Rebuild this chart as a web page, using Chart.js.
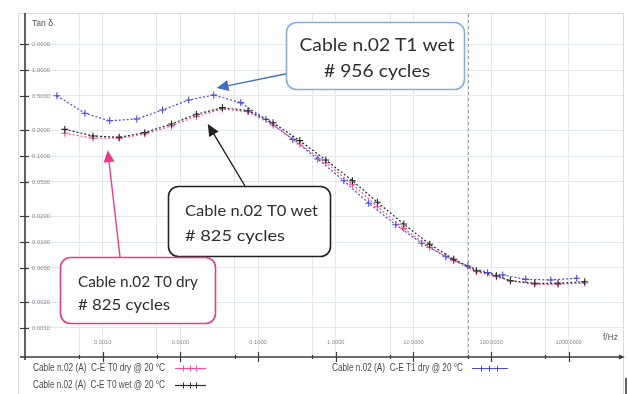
<!DOCTYPE html>
<html><head><meta charset="utf-8">
<script src="https://cdn.jsdelivr.net/npm/chart.js@4.4.1/dist/chart.umd.min.js"></script>
<style>html,body{margin:0;padding:0;background:#fff;}#wrap{width:628px;height:394px;position:relative;}</style>
</head><body><div id="wrap"><canvas id="c" width="628" height="394"></canvas></div>
<script>
// ---- data ----
const freqT0 = [0.000325, 0.00075, 0.00163, 0.00348, 0.0077, 0.0161, 0.0348, 0.0744, 0.156, 0.344, 0.744, 1.64, 3.44, 7.5, 16.2, 33, 64.7, 117, 177, 364, 726, 1600];
const tanT0dry = [0.184, 0.161, 0.161, 0.180, 0.224, 0.290, 0.352, 0.327, 0.229, 0.138, 0.0836, 0.0469, 0.0257, 0.0144, 0.00867, 0.00606, 0.00451, 0.00395, 0.00355, 0.00322, 0.00322, 0.00333];
const tanT0wet = [0.204, 0.171, 0.165, 0.187, 0.236, 0.306, 0.365, 0.336, 0.244, 0.151, 0.0898, 0.0516, 0.0290, 0.0162, 0.0094, 0.00629, 0.00464, 0.00405, 0.00355, 0.00331, 0.00331, 0.00345];
const freqT1 = [0.000257, 0.00059, 0.00123, 0.00275, 0.0059, 0.0128, 0.0269, 0.0598, 0.126, 0.28, 0.587, 1.27, 2.66, 5.92, 12.8, 26.1, 50, 90, 141, 279, 585, 1265];
const tanT1dry = [0.502, 0.314, 0.257, 0.269, 0.343, 0.448, 0.512, 0.417, 0.267, 0.156, 0.0923, 0.0516, 0.0282, 0.0159, 0.00966, 0.00675, 0.00526, 0.00440, 0.00413, 0.00368, 0.00362, 0.00379];

const seriesNames = ['Cable n.02 (A)  C-E T0 dry @ 20 °C', 'Cable n.02 (A)  C-E T0 wet @ 20 °C', 'Cable n.02 (A)  C-E T1 dry @ 20 °C'];
const seriesColors = ['#f0509a', '#2a2a2a', '#4b4bd0'];

const xGridValues = [0.0005, 0.001, 0.005, 0.01, 0.05, 0.1, 0.5, 1, 5, 10, 50, 100, 500, 1000];
const xLabelValues = [0.001, 0.01, 0.1, 1, 10, 100, 1000];
const xLabels = ['0.0010', '0.0100', '0.1000', '1.0000', '10.0000', '100.0000', '1000.0000'];
const yTickValues = [0.001, 0.002, 0.005, 0.01, 0.02, 0.05, 0.1, 0.2, 0.5, 1, 2];
const yLabels = ['0.0010', '0.0020', '0.0050', '0.0100', '0.0200', '0.0500', '0.1000', '0.2000', '0.5000', '1.0000', '2.0000'];
const markerFreq = 50;
const yTitle = 'Tan δ';
const xTitle = 'f/Hz';

const calloutLines = [['Cable n.02 T1 wet', '# 956 cycles'], ['Cable n.02 T0 wet', '# 825 cycles'], ['Cable n.02 T0 dry', '# 825 cycles']];
const calloutTipFreq = [0.0292, 0.0225, 0.00116];
const calloutTipTan = [0.617, 0.236, 0.117];

// ---- helpers ----
function fitText(ctx, text, x, y, w, align) {
  const m = ctx.measureText(text).width;
  ctx.save();
  ctx.translate(x, y);
  ctx.scale(w / m, 1);
  ctx.textAlign = 'left';
  let ox = 0;
  if (align === 'center') ox = -m / 2;
  if (align === 'right') ox = -m;
  ctx.fillText(text, ox, 0);
  ctx.restore();
}
function roundRect(ctx, x, y, w, h, r) {
  ctx.beginPath();
  ctx.moveTo(x + r, y);
  ctx.lineTo(x + w - r, y);
  ctx.arcTo(x + w, y, x + w, y + r, r);
  ctx.lineTo(x + w, y + h - r);
  ctx.arcTo(x + w, y + h, x + w - r, y + h, r);
  ctx.lineTo(x + r, y + h);
  ctx.arcTo(x, y + h, x, y + h - r, r);
  ctx.lineTo(x, y + r);
  ctx.arcTo(x, y, x + r, y, r);
  ctx.closePath();
}
function arrow(ctx, x1, y1, x2, y2, color) {
  const a = Math.atan2(y2 - y1, x2 - x1);
  const L = 12, W = 5.5;
  ctx.save();
  ctx.strokeStyle = color; ctx.fillStyle = color; ctx.lineWidth = 1.4;
  ctx.beginPath();
  ctx.moveTo(x1, y1);
  ctx.lineTo(x2 - Math.cos(a) * L * 0.8, y2 - Math.sin(a) * L * 0.8);
  ctx.stroke();
  ctx.beginPath();
  ctx.moveTo(x2, y2);
  ctx.lineTo(x2 - Math.cos(a) * L + Math.sin(a) * W, y2 - Math.sin(a) * L - Math.cos(a) * W);
  ctx.lineTo(x2 - Math.cos(a) * L - Math.sin(a) * W, y2 - Math.sin(a) * L + Math.cos(a) * W);
  ctx.closePath();
  ctx.fill();
  ctx.restore();
}
function cross(ctx, x, y, r, color) {
  ctx.save();
  ctx.strokeStyle = color; ctx.lineWidth = 1;
  ctx.beginPath();
  ctx.moveTo(x - r, y); ctx.lineTo(x + r, y);
  ctx.moveTo(x, y - r); ctx.lineTo(x, y + r);
  ctx.stroke();
  ctx.restore();
}

const decor = {
  id: 'decor',
  beforeDatasetsDraw(chart) {
    const ctx = chart.ctx;
    const xs = chart.scales.x, ys = chart.scales.y, ca = chart.chartArea;
    ctx.save();
    // frame
    ctx.strokeStyle = '#dadada'; ctx.lineWidth = 1;
    ctx.beginPath();
    ctx.moveTo(18.5, 394); ctx.lineTo(18.5, 13.5); ctx.lineTo(623.5, 13.5); ctx.lineTo(623.5, 394);
    ctx.stroke();
    // 50 Hz dashed line
    const xm = Math.round(xs.getPixelForValue(markerFreq)) + 0.5;
    ctx.strokeStyle = '#9a9a9a'; ctx.setLineDash([3, 3]);
    ctx.beginPath(); ctx.moveTo(xm, ca.top); ctx.lineTo(xm, ca.bottom); ctx.stroke();
    ctx.setLineDash([]);
    // axes
    ctx.strokeStyle = '#3c3c3c'; ctx.lineWidth = 1.6;
    ctx.beginPath();
    ctx.moveTo(ca.left, ca.top - 1); ctx.lineTo(ca.left, ca.bottom + 3);
    ctx.moveTo(ca.left - 5, ca.bottom); ctx.lineTo(ca.right, ca.bottom);
    ctx.stroke();
    ctx.fillStyle = '#3c3c3c';
    ctx.beginPath();
    ctx.moveTo(ca.right + 2, ca.bottom); ctx.lineTo(ca.right - 4, ca.bottom - 2.5); ctx.lineTo(ca.right - 4, ca.bottom + 2.5); ctx.closePath(); ctx.fill();
    // x ticks
    ctx.lineWidth = 1.2;
    xGridValues.forEach(v => {
      const px = Math.round(xs.getPixelForValue(v)) + 0.5;
      const major = xLabelValues.includes(v);
      ctx.beginPath();
      ctx.moveTo(px, ca.bottom - (major ? 5 : 2));
      ctx.lineTo(px, ca.bottom + (major ? 5 : 2));
      ctx.stroke();
    });
    // y ticks
    yTickValues.forEach(v => {
      const py = Math.round(ys.getPixelForValue(v)) + 0.5;
      ctx.beginPath(); ctx.moveTo(ca.left - 5, py); ctx.lineTo(ca.left + 4, py); ctx.stroke();
    });
    // tick labels
    ctx.fillStyle = '#8a8a8a';
    ctx.textBaseline = 'middle';
    ctx.font = '6px "Liberation Sans", Arial, sans-serif';
    yTickValues.forEach((v, i) => {
      const py = ys.getPixelForValue(v);
      fitText(ctx, yLabels[i], ca.left + 7, py, 18, 'left');
    });
    xLabelValues.forEach((v, i) => {
      const px = xs.getPixelForValue(v);
      fitText(ctx, xLabels[i], px, ca.bottom - 15, xLabels[i].length * 2.9, 'center');
    });
    ctx.fillStyle = '#555';
    ctx.font = '9px "Liberation Sans", Arial, sans-serif';
    fitText(ctx, yTitle, ca.left + 7, ca.top + 10, 21, 'left');
    fitText(ctx, xTitle, 603, ca.bottom - 19, 15, 'left');
    ctx.restore();
  },
  afterDatasetsDraw(chart) {
    const ctx = chart.ctx;
    const xs = chart.scales.x, ys = chart.scales.y;
    const boxes = [
      {x: 286, y: 22, w: 178, h: 67, color: '#8eaad6', tail: [290, 73], arrowColor: '#3f6fc2', font: 17, tx: 377, align: 'center', w1: 155, w2: 106, y1: 46, y2: 72},
      {x: 168, y: 186, w: 162, h: 70, color: '#222222', tail: [245, 186], arrowColor: '#222222', font: 16, tx: 185, align: 'left', w1: 133, w2: 100, y1: 211, y2: 236},
      {x: 60, y: 257, w: 155, h: 66, color: '#e23f86', tail: [120, 257], arrowColor: '#ea3c8a', font: 15, tx: 78, align: 'left', w1: 120, w2: 92, y1: 282, y2: 305}
    ];
    ctx.save();
    boxes.forEach((b, i) => {
      const tx = xs.getPixelForValue(calloutTipFreq[i]);
      const ty = ys.getPixelForValue(calloutTipTan[i]);
      arrow(ctx, b.tail[0], b.tail[1], tx, ty, b.arrowColor);
      roundRect(ctx, b.x + 0.5, b.y + 0.5, b.w, b.h, 10);
      ctx.fillStyle = '#fff'; ctx.fill();
      ctx.strokeStyle = b.color; ctx.lineWidth = 1.6; ctx.stroke();
      ctx.fillStyle = '#2e2e2e';
      ctx.textBaseline = 'middle';
      ctx.font = b.font + 'px Lato, "Open Sans", sans-serif';
      fitText(ctx, calloutLines[i][0], b.tx, b.y1, b.w1, b.align);
      fitText(ctx, calloutLines[i][1], b.tx, b.y2, b.w2, b.align);
    });
    ctx.restore();
  },
  afterDraw(chart) {
    const ctx = chart.ctx;
    ctx.save();
    ctx.textBaseline = 'middle';
    ctx.font = '10px "Liberation Sans Narrow", "Liberation Sans", Arial, sans-serif';
    const items = [
      {i: 0, x: 33, y: 368, w: 132, sx: 175, sw: 31},
      {i: 2, x: 332, y: 368, w: 131, sx: 472, sw: 36},
      {i: 1, x: 33, y: 385, w: 132, sx: 175, sw: 31}
    ];
    items.forEach(it => {
      ctx.fillStyle = '#4a4a4a';
      fitText(ctx, seriesNames[it.i], it.x, it.y, it.w, 'left');
      const col = seriesColors[it.i];
      ctx.strokeStyle = col; ctx.lineWidth = 1.2;
      ctx.beginPath(); ctx.moveTo(it.sx, it.y + 0.5); ctx.lineTo(it.sx + it.sw, it.y + 0.5); ctx.stroke();
      [0.25, 0.47, 0.69].forEach(f => cross(ctx, Math.round(it.sx + it.sw * f) + 0.5, it.y + 0.5, 3, col));
    });
    // small screen artifact at bottom right
    ctx.strokeStyle = '#333'; ctx.lineWidth = 1.5;
    ctx.beginPath(); ctx.moveTo(626, 378); ctx.lineTo(626, 394); ctx.stroke();
    ctx.restore();
  }
};

function ds(label, fx, fy, color, order) {
  return {
    label: label,
    data: fx.map((f, k) => ({x: f, y: fy[k]})),
    borderColor: color,
    backgroundColor: color,
    borderWidth: 1.2,
    borderDash: [2, 2],
    pointStyle: 'cross',
    pointRadius: 3.5,
    pointBorderWidth: 1.1,
    pointBorderColor: color,
    tension: 0,
    order: order
  };
}

new Chart(document.getElementById('c'), {
  type: 'line',
  data: {
    datasets: [
      ds(seriesNames[2], freqT1, tanT1dry, seriesColors[2], 3),
      ds(seriesNames[0], freqT0, tanT0dry, seriesColors[0], 2),
      ds(seriesNames[1], freqT0, tanT0wet, seriesColors[1], 1)
    ]
  },
  options: {
    responsive: false,
    animation: false,
    devicePixelRatio: 1,
    layout: {padding: {left: 25, top: 14, right: 5, bottom: 37}},
    plugins: {legend: {display: false}, tooltip: {enabled: false}},
    scales: {
      x: {
        type: 'logarithmic', min: 0.0001, max: 4966,
        afterBuildTicks: s => { s.ticks = xGridValues.map(v => ({value: v})); },
        afterFit: s => { s.height = 0; },
        ticks: {display: false},
        grid: {color: '#e3e8ee', lineWidth: 1, drawTicks: false},
        border: {display: false}
      },
      y: {
        type: 'logarithmic', min: 0.00046, max: 4.48,
        afterBuildTicks: s => { s.ticks = yTickValues.map(v => ({value: v})); },
        afterFit: s => { s.width = 0; },
        ticks: {display: false},
        grid: {color: c => (c.tick && c.tick.value === 0.5 ? '#f1ead0' : '#e3e8ee'), lineWidth: 1, drawTicks: false},
        border: {display: false}
      }
    }
  },
  plugins: [decor]
});
</script>
</body></html>
